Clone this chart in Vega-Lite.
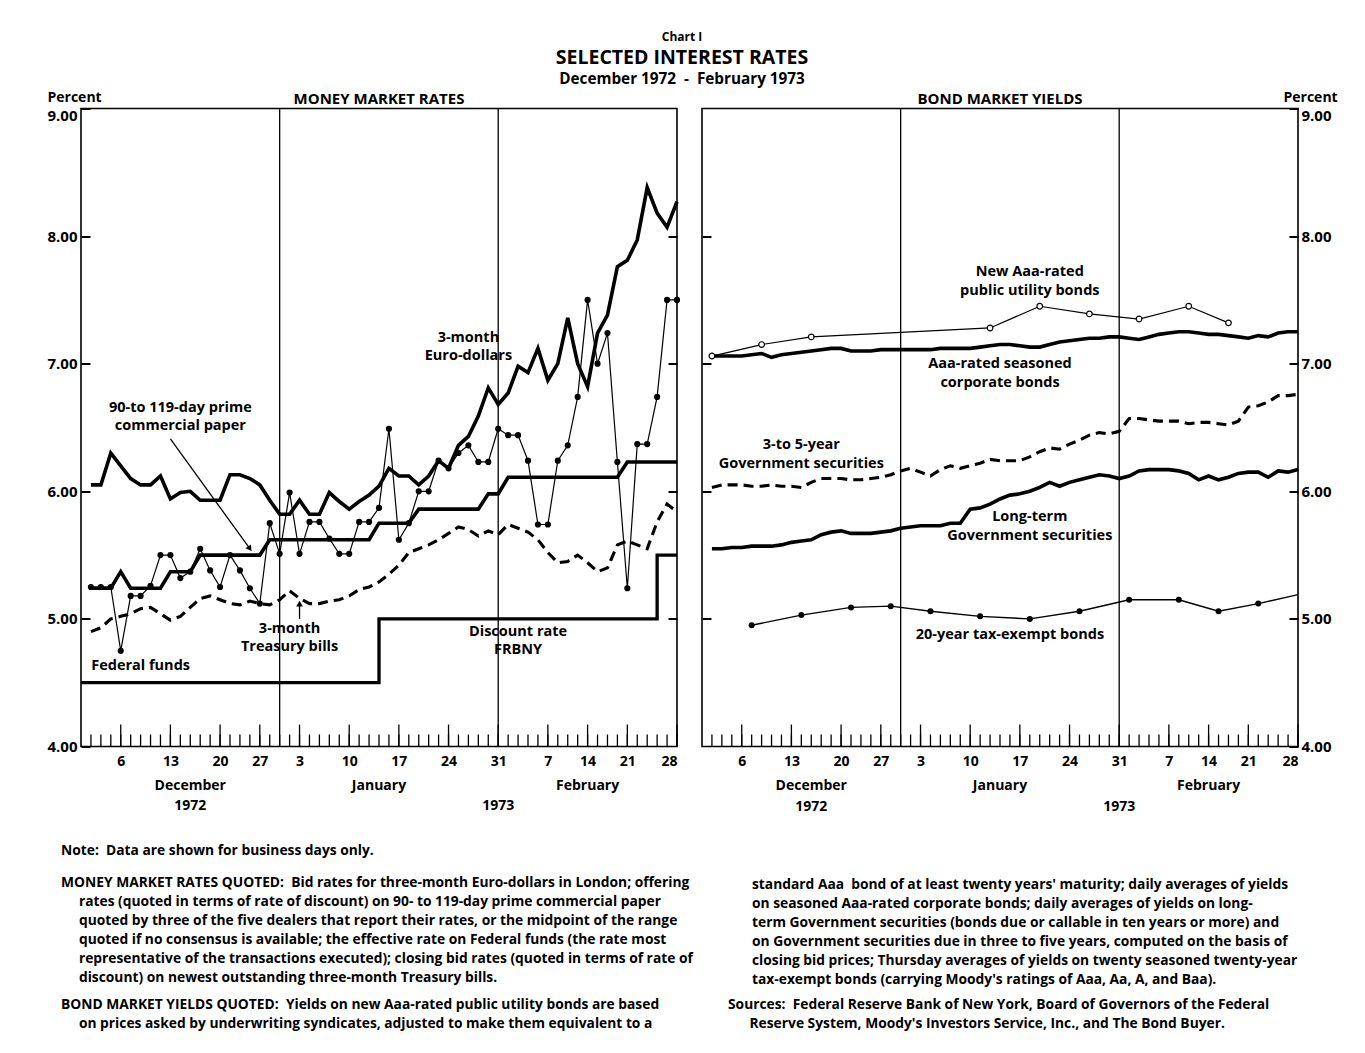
{
  "$schema": "https://vega.github.io/schema/vega-lite/v6.json",
  "background": "white",
  "padding": {"left": 46, "top": 26, "right": 5, "bottom": 5},
  "config": {
    "view": {"stroke": null},
    "font": "Open Sans",
    "text": {"font": "Open Sans", "fontWeight": "bold", "color": "black"},
    "line": {"color": "black"},
    "rule": {"color": "black"},
    "point": {"color": "black"},
    "axis": {"labelColor": "black", "titleColor": "black", "tickColor": "black", "domainColor": "black", "grid": false},
    "title": {"color": "black", "subtitleColor": "black"}
  },
  "datasets": {
    "header": [
      {"line": 1, "text": "Chart I"},
      {"line": 2, "text": "SELECTED INTEREST RATES"},
      {"line": 3, "text": "December 1972\u00a0 -\u00a0 February 1973"}
    ],
    "money": [
      {"date":"1972-12-01","series":"euro","rate":6.05},{"date":"1972-12-04","series":"euro","rate":6.05},{"date":"1972-12-05","series":"euro","rate":6.30},{"date":"1972-12-06","series":"euro","rate":6.20},{"date":"1972-12-07","series":"euro","rate":6.10},{"date":"1972-12-08","series":"euro","rate":6.05},{"date":"1972-12-11","series":"euro","rate":6.05},{"date":"1972-12-12","series":"euro","rate":6.12},{"date":"1972-12-13","series":"euro","rate":5.94},{"date":"1972-12-14","series":"euro","rate":5.99},{"date":"1972-12-15","series":"euro","rate":6.00},{"date":"1972-12-18","series":"euro","rate":5.93},{"date":"1972-12-19","series":"euro","rate":5.93},{"date":"1972-12-20","series":"euro","rate":5.93},{"date":"1972-12-21","series":"euro","rate":6.13},{"date":"1972-12-22","series":"euro","rate":6.13},{"date":"1972-12-26","series":"euro","rate":6.10},{"date":"1972-12-27","series":"euro","rate":6.05},{"date":"1972-12-28","series":"euro","rate":5.93},{"date":"1972-12-29","series":"euro","rate":5.82},
      {"date":"1973-01-02","series":"euro","rate":5.82},{"date":"1973-01-03","series":"euro","rate":5.93},{"date":"1973-01-04","series":"euro","rate":5.82},{"date":"1973-01-05","series":"euro","rate":5.82},{"date":"1973-01-08","series":"euro","rate":5.99},{"date":"1973-01-09","series":"euro","rate":5.92},{"date":"1973-01-10","series":"euro","rate":5.86},{"date":"1973-01-11","series":"euro","rate":5.92},{"date":"1973-01-12","series":"euro","rate":5.97},{"date":"1973-01-15","series":"euro","rate":6.04},{"date":"1973-01-16","series":"euro","rate":6.18},{"date":"1973-01-17","series":"euro","rate":6.12},{"date":"1973-01-18","series":"euro","rate":6.12},{"date":"1973-01-19","series":"euro","rate":6.05},{"date":"1973-01-22","series":"euro","rate":6.12},{"date":"1973-01-23","series":"euro","rate":6.24},{"date":"1973-01-24","series":"euro","rate":6.18},{"date":"1973-01-25","series":"euro","rate":6.36},{"date":"1973-01-26","series":"euro","rate":6.43},{"date":"1973-01-29","series":"euro","rate":6.59},{"date":"1973-01-30","series":"euro","rate":6.81},{"date":"1973-01-31","series":"euro","rate":6.68},
      {"date":"1973-02-01","series":"euro","rate":6.77},{"date":"1973-02-02","series":"euro","rate":6.98},{"date":"1973-02-05","series":"euro","rate":6.93},{"date":"1973-02-06","series":"euro","rate":7.12},{"date":"1973-02-07","series":"euro","rate":6.87},{"date":"1973-02-08","series":"euro","rate":7.00},{"date":"1973-02-09","series":"euro","rate":7.36},{"date":"1973-02-13","series":"euro","rate":7.00},{"date":"1973-02-14","series":"euro","rate":6.82},{"date":"1973-02-15","series":"euro","rate":7.24},{"date":"1973-02-16","series":"euro","rate":7.38},{"date":"1973-02-20","series":"euro","rate":7.76},{"date":"1973-02-21","series":"euro","rate":7.81},{"date":"1973-02-22","series":"euro","rate":7.97},{"date":"1973-02-23","series":"euro","rate":8.38},{"date":"1973-02-26","series":"euro","rate":8.18},{"date":"1973-02-27","series":"euro","rate":8.07},{"date":"1973-02-28","series":"euro","rate":8.27},

      {"date":"1972-12-01","series":"paper","rate":5.24},{"date":"1972-12-04","series":"paper","rate":5.24},{"date":"1972-12-05","series":"paper","rate":5.24},{"date":"1972-12-06","series":"paper","rate":5.37},{"date":"1972-12-07","series":"paper","rate":5.24},{"date":"1972-12-08","series":"paper","rate":5.24},{"date":"1972-12-11","series":"paper","rate":5.24},{"date":"1972-12-12","series":"paper","rate":5.24},{"date":"1972-12-13","series":"paper","rate":5.37},{"date":"1972-12-14","series":"paper","rate":5.37},{"date":"1972-12-15","series":"paper","rate":5.37},{"date":"1972-12-18","series":"paper","rate":5.50},{"date":"1972-12-19","series":"paper","rate":5.50},{"date":"1972-12-20","series":"paper","rate":5.50},{"date":"1972-12-21","series":"paper","rate":5.50},{"date":"1972-12-22","series":"paper","rate":5.50},{"date":"1972-12-26","series":"paper","rate":5.50},{"date":"1972-12-27","series":"paper","rate":5.50},{"date":"1972-12-28","series":"paper","rate":5.62},{"date":"1972-12-29","series":"paper","rate":5.62},
      {"date":"1973-01-02","series":"paper","rate":5.62},{"date":"1973-01-03","series":"paper","rate":5.62},{"date":"1973-01-04","series":"paper","rate":5.62},{"date":"1973-01-05","series":"paper","rate":5.62},{"date":"1973-01-08","series":"paper","rate":5.62},{"date":"1973-01-09","series":"paper","rate":5.62},{"date":"1973-01-10","series":"paper","rate":5.62},{"date":"1973-01-11","series":"paper","rate":5.62},{"date":"1973-01-12","series":"paper","rate":5.62},{"date":"1973-01-15","series":"paper","rate":5.75},{"date":"1973-01-16","series":"paper","rate":5.75},{"date":"1973-01-17","series":"paper","rate":5.75},{"date":"1973-01-18","series":"paper","rate":5.75},{"date":"1973-01-19","series":"paper","rate":5.86},{"date":"1973-01-22","series":"paper","rate":5.86},{"date":"1973-01-23","series":"paper","rate":5.86},{"date":"1973-01-24","series":"paper","rate":5.86},{"date":"1973-01-25","series":"paper","rate":5.86},{"date":"1973-01-26","series":"paper","rate":5.86},{"date":"1973-01-29","series":"paper","rate":5.86},{"date":"1973-01-30","series":"paper","rate":5.98},{"date":"1973-01-31","series":"paper","rate":5.98},
      {"date":"1973-02-01","series":"paper","rate":6.11},{"date":"1973-02-02","series":"paper","rate":6.11},{"date":"1973-02-05","series":"paper","rate":6.11},{"date":"1973-02-06","series":"paper","rate":6.11},{"date":"1973-02-07","series":"paper","rate":6.11},{"date":"1973-02-08","series":"paper","rate":6.11},{"date":"1973-02-09","series":"paper","rate":6.11},{"date":"1973-02-13","series":"paper","rate":6.11},{"date":"1973-02-14","series":"paper","rate":6.11},{"date":"1973-02-15","series":"paper","rate":6.11},{"date":"1973-02-16","series":"paper","rate":6.11},{"date":"1973-02-20","series":"paper","rate":6.11},{"date":"1973-02-21","series":"paper","rate":6.23},{"date":"1973-02-22","series":"paper","rate":6.23},{"date":"1973-02-23","series":"paper","rate":6.23},{"date":"1973-02-26","series":"paper","rate":6.23},{"date":"1973-02-27","series":"paper","rate":6.23},{"date":"1973-02-28","series":"paper","rate":6.23},

      {"date":"1972-12-01","series":"fedfunds","rate":5.25},{"date":"1972-12-04","series":"fedfunds","rate":5.25},{"date":"1972-12-05","series":"fedfunds","rate":5.25},{"date":"1972-12-06","series":"fedfunds","rate":4.75},{"date":"1972-12-07","series":"fedfunds","rate":5.18},{"date":"1972-12-08","series":"fedfunds","rate":5.18},{"date":"1972-12-11","series":"fedfunds","rate":5.26},{"date":"1972-12-12","series":"fedfunds","rate":5.50},{"date":"1972-12-13","series":"fedfunds","rate":5.50},{"date":"1972-12-14","series":"fedfunds","rate":5.32},{"date":"1972-12-15","series":"fedfunds","rate":5.37},{"date":"1972-12-18","series":"fedfunds","rate":5.55},{"date":"1972-12-19","series":"fedfunds","rate":5.38},{"date":"1972-12-20","series":"fedfunds","rate":5.25},{"date":"1972-12-21","series":"fedfunds","rate":5.50},{"date":"1972-12-22","series":"fedfunds","rate":5.38},{"date":"1972-12-26","series":"fedfunds","rate":5.24},{"date":"1972-12-27","series":"fedfunds","rate":5.12},{"date":"1972-12-28","series":"fedfunds","rate":5.75},{"date":"1972-12-29","series":"fedfunds","rate":5.51},
      {"date":"1973-01-02","series":"fedfunds","rate":5.99},{"date":"1973-01-03","series":"fedfunds","rate":5.51},{"date":"1973-01-04","series":"fedfunds","rate":5.76},{"date":"1973-01-05","series":"fedfunds","rate":5.76},{"date":"1973-01-08","series":"fedfunds","rate":5.63},{"date":"1973-01-09","series":"fedfunds","rate":5.51},{"date":"1973-01-10","series":"fedfunds","rate":5.51},{"date":"1973-01-11","series":"fedfunds","rate":5.76},{"date":"1973-01-12","series":"fedfunds","rate":5.76},{"date":"1973-01-15","series":"fedfunds","rate":5.87},{"date":"1973-01-16","series":"fedfunds","rate":6.49},{"date":"1973-01-17","series":"fedfunds","rate":5.62},{"date":"1973-01-18","series":"fedfunds","rate":5.75},{"date":"1973-01-19","series":"fedfunds","rate":6.00},{"date":"1973-01-22","series":"fedfunds","rate":6.00},{"date":"1973-01-23","series":"fedfunds","rate":6.24},{"date":"1973-01-24","series":"fedfunds","rate":6.18},{"date":"1973-01-25","series":"fedfunds","rate":6.30},{"date":"1973-01-26","series":"fedfunds","rate":6.36},{"date":"1973-01-29","series":"fedfunds","rate":6.23},{"date":"1973-01-30","series":"fedfunds","rate":6.23},{"date":"1973-01-31","series":"fedfunds","rate":6.49},
      {"date":"1973-02-01","series":"fedfunds","rate":6.44},{"date":"1973-02-02","series":"fedfunds","rate":6.44},{"date":"1973-02-05","series":"fedfunds","rate":6.24},{"date":"1973-02-06","series":"fedfunds","rate":5.74},{"date":"1973-02-07","series":"fedfunds","rate":5.74},{"date":"1973-02-08","series":"fedfunds","rate":6.24},{"date":"1973-02-09","series":"fedfunds","rate":6.36},{"date":"1973-02-13","series":"fedfunds","rate":6.74},{"date":"1973-02-14","series":"fedfunds","rate":7.50},{"date":"1973-02-15","series":"fedfunds","rate":7.00},{"date":"1973-02-16","series":"fedfunds","rate":7.24},{"date":"1973-02-20","series":"fedfunds","rate":6.23},{"date":"1973-02-21","series":"fedfunds","rate":5.24},{"date":"1973-02-22","series":"fedfunds","rate":6.37},{"date":"1973-02-23","series":"fedfunds","rate":6.37},{"date":"1973-02-26","series":"fedfunds","rate":6.74},{"date":"1973-02-27","series":"fedfunds","rate":7.50},{"date":"1973-02-28","series":"fedfunds","rate":7.50},

      {"date":"1972-12-01","series":"bills","rate":4.90},{"date":"1972-12-04","series":"bills","rate":4.93},{"date":"1972-12-05","series":"bills","rate":5.00},{"date":"1972-12-06","series":"bills","rate":5.02},{"date":"1972-12-07","series":"bills","rate":5.04},{"date":"1972-12-08","series":"bills","rate":5.08},{"date":"1972-12-11","series":"bills","rate":5.09},{"date":"1972-12-12","series":"bills","rate":5.04},{"date":"1972-12-13","series":"bills","rate":4.99},{"date":"1972-12-14","series":"bills","rate":5.02},{"date":"1972-12-15","series":"bills","rate":5.09},{"date":"1972-12-18","series":"bills","rate":5.16},{"date":"1972-12-19","series":"bills","rate":5.18},{"date":"1972-12-20","series":"bills","rate":5.15},{"date":"1972-12-21","series":"bills","rate":5.12},{"date":"1972-12-22","series":"bills","rate":5.11},{"date":"1972-12-26","series":"bills","rate":5.14},{"date":"1972-12-27","series":"bills","rate":5.12},{"date":"1972-12-28","series":"bills","rate":5.11},{"date":"1972-12-29","series":"bills","rate":5.15},
      {"date":"1973-01-02","series":"bills","rate":5.22},{"date":"1973-01-03","series":"bills","rate":5.16},{"date":"1973-01-04","series":"bills","rate":5.12},{"date":"1973-01-05","series":"bills","rate":5.12},{"date":"1973-01-08","series":"bills","rate":5.14},{"date":"1973-01-09","series":"bills","rate":5.15},{"date":"1973-01-10","series":"bills","rate":5.18},{"date":"1973-01-11","series":"bills","rate":5.23},{"date":"1973-01-12","series":"bills","rate":5.25},{"date":"1973-01-15","series":"bills","rate":5.29},{"date":"1973-01-16","series":"bills","rate":5.35},{"date":"1973-01-17","series":"bills","rate":5.42},{"date":"1973-01-18","series":"bills","rate":5.52},{"date":"1973-01-19","series":"bills","rate":5.55},{"date":"1973-01-22","series":"bills","rate":5.58},{"date":"1973-01-23","series":"bills","rate":5.62},{"date":"1973-01-24","series":"bills","rate":5.67},{"date":"1973-01-25","series":"bills","rate":5.72},{"date":"1973-01-26","series":"bills","rate":5.70},{"date":"1973-01-29","series":"bills","rate":5.65},{"date":"1973-01-30","series":"bills","rate":5.69},{"date":"1973-01-31","series":"bills","rate":5.66},
      {"date":"1973-02-01","series":"bills","rate":5.74},{"date":"1973-02-02","series":"bills","rate":5.71},{"date":"1973-02-05","series":"bills","rate":5.68},{"date":"1973-02-06","series":"bills","rate":5.62},{"date":"1973-02-07","series":"bills","rate":5.52},{"date":"1973-02-08","series":"bills","rate":5.44},{"date":"1973-02-09","series":"bills","rate":5.45},{"date":"1973-02-13","series":"bills","rate":5.50},{"date":"1973-02-14","series":"bills","rate":5.44},{"date":"1973-02-15","series":"bills","rate":5.37},{"date":"1973-02-16","series":"bills","rate":5.40},{"date":"1973-02-20","series":"bills","rate":5.58},{"date":"1973-02-21","series":"bills","rate":5.61},{"date":"1973-02-22","series":"bills","rate":5.58},{"date":"1973-02-23","series":"bills","rate":5.55},{"date":"1973-02-26","series":"bills","rate":5.76},{"date":"1973-02-27","series":"bills","rate":5.90},{"date":"1973-02-28","series":"bills","rate":5.84},

      {"date":"1972-11-30","series":"discount","rate":4.50},{"date":"1973-01-15","series":"discount","rate":5.00},{"date":"1973-02-26","series":"discount","rate":5.50},{"date":"1973-02-28","series":"discount","rate":5.50}
    ],
    "bond": [
      {"date":"1972-12-01","series":"aaa","rate":7.06},{"date":"1972-12-04","series":"aaa","rate":7.06},{"date":"1972-12-05","series":"aaa","rate":7.06},{"date":"1972-12-06","series":"aaa","rate":7.06},{"date":"1972-12-07","series":"aaa","rate":7.07},{"date":"1972-12-08","series":"aaa","rate":7.08},{"date":"1972-12-11","series":"aaa","rate":7.05},{"date":"1972-12-12","series":"aaa","rate":7.07},{"date":"1972-12-13","series":"aaa","rate":7.08},{"date":"1972-12-14","series":"aaa","rate":7.09},{"date":"1972-12-15","series":"aaa","rate":7.10},{"date":"1972-12-18","series":"aaa","rate":7.11},{"date":"1972-12-19","series":"aaa","rate":7.12},{"date":"1972-12-20","series":"aaa","rate":7.12},{"date":"1972-12-21","series":"aaa","rate":7.10},{"date":"1972-12-22","series":"aaa","rate":7.10},{"date":"1972-12-26","series":"aaa","rate":7.10},{"date":"1972-12-27","series":"aaa","rate":7.11},{"date":"1972-12-28","series":"aaa","rate":7.11},{"date":"1972-12-29","series":"aaa","rate":7.11},
      {"date":"1973-01-02","series":"aaa","rate":7.11},{"date":"1973-01-03","series":"aaa","rate":7.11},{"date":"1973-01-04","series":"aaa","rate":7.11},{"date":"1973-01-05","series":"aaa","rate":7.12},{"date":"1973-01-08","series":"aaa","rate":7.12},{"date":"1973-01-09","series":"aaa","rate":7.12},{"date":"1973-01-10","series":"aaa","rate":7.12},{"date":"1973-01-11","series":"aaa","rate":7.13},{"date":"1973-01-12","series":"aaa","rate":7.14},{"date":"1973-01-15","series":"aaa","rate":7.15},{"date":"1973-01-16","series":"aaa","rate":7.15},{"date":"1973-01-17","series":"aaa","rate":7.14},{"date":"1973-01-18","series":"aaa","rate":7.13},{"date":"1973-01-19","series":"aaa","rate":7.13},{"date":"1973-01-22","series":"aaa","rate":7.15},{"date":"1973-01-23","series":"aaa","rate":7.17},{"date":"1973-01-24","series":"aaa","rate":7.18},{"date":"1973-01-25","series":"aaa","rate":7.19},{"date":"1973-01-26","series":"aaa","rate":7.20},{"date":"1973-01-29","series":"aaa","rate":7.20},{"date":"1973-01-30","series":"aaa","rate":7.21},{"date":"1973-01-31","series":"aaa","rate":7.21},
      {"date":"1973-02-01","series":"aaa","rate":7.20},{"date":"1973-02-02","series":"aaa","rate":7.19},{"date":"1973-02-05","series":"aaa","rate":7.21},{"date":"1973-02-06","series":"aaa","rate":7.23},{"date":"1973-02-07","series":"aaa","rate":7.24},{"date":"1973-02-08","series":"aaa","rate":7.25},{"date":"1973-02-09","series":"aaa","rate":7.25},{"date":"1973-02-13","series":"aaa","rate":7.24},{"date":"1973-02-14","series":"aaa","rate":7.23},{"date":"1973-02-15","series":"aaa","rate":7.23},{"date":"1973-02-16","series":"aaa","rate":7.22},{"date":"1973-02-20","series":"aaa","rate":7.21},{"date":"1973-02-21","series":"aaa","rate":7.20},{"date":"1973-02-22","series":"aaa","rate":7.22},{"date":"1973-02-23","series":"aaa","rate":7.21},{"date":"1973-02-26","series":"aaa","rate":7.24},{"date":"1973-02-27","series":"aaa","rate":7.25},{"date":"1973-02-28","series":"aaa","rate":7.25},

      {"date":"1972-12-01","series":"gov35","rate":6.03},{"date":"1972-12-04","series":"gov35","rate":6.05},{"date":"1972-12-05","series":"gov35","rate":6.05},{"date":"1972-12-06","series":"gov35","rate":6.05},{"date":"1972-12-07","series":"gov35","rate":6.04},{"date":"1972-12-08","series":"gov35","rate":6.04},{"date":"1972-12-11","series":"gov35","rate":6.05},{"date":"1972-12-12","series":"gov35","rate":6.04},{"date":"1972-12-13","series":"gov35","rate":6.04},{"date":"1972-12-14","series":"gov35","rate":6.03},{"date":"1972-12-15","series":"gov35","rate":6.07},{"date":"1972-12-18","series":"gov35","rate":6.10},{"date":"1972-12-19","series":"gov35","rate":6.10},{"date":"1972-12-20","series":"gov35","rate":6.10},{"date":"1972-12-21","series":"gov35","rate":6.09},{"date":"1972-12-22","series":"gov35","rate":6.09},{"date":"1972-12-26","series":"gov35","rate":6.10},{"date":"1972-12-27","series":"gov35","rate":6.11},{"date":"1972-12-28","series":"gov35","rate":6.13},{"date":"1972-12-29","series":"gov35","rate":6.16},
      {"date":"1973-01-02","series":"gov35","rate":6.18},{"date":"1973-01-03","series":"gov35","rate":6.15},{"date":"1973-01-04","series":"gov35","rate":6.12},{"date":"1973-01-05","series":"gov35","rate":6.17},{"date":"1973-01-08","series":"gov35","rate":6.20},{"date":"1973-01-09","series":"gov35","rate":6.18},{"date":"1973-01-10","series":"gov35","rate":6.20},{"date":"1973-01-11","series":"gov35","rate":6.22},{"date":"1973-01-12","series":"gov35","rate":6.25},{"date":"1973-01-15","series":"gov35","rate":6.24},{"date":"1973-01-16","series":"gov35","rate":6.24},{"date":"1973-01-17","series":"gov35","rate":6.24},{"date":"1973-01-18","series":"gov35","rate":6.27},{"date":"1973-01-19","series":"gov35","rate":6.31},{"date":"1973-01-22","series":"gov35","rate":6.34},{"date":"1973-01-23","series":"gov35","rate":6.33},{"date":"1973-01-24","series":"gov35","rate":6.37},{"date":"1973-01-25","series":"gov35","rate":6.40},{"date":"1973-01-26","series":"gov35","rate":6.44},{"date":"1973-01-29","series":"gov35","rate":6.46},{"date":"1973-01-30","series":"gov35","rate":6.45},{"date":"1973-01-31","series":"gov35","rate":6.47},
      {"date":"1973-02-01","series":"gov35","rate":6.57},{"date":"1973-02-02","series":"gov35","rate":6.57},{"date":"1973-02-05","series":"gov35","rate":6.56},{"date":"1973-02-06","series":"gov35","rate":6.55},{"date":"1973-02-07","series":"gov35","rate":6.55},{"date":"1973-02-08","series":"gov35","rate":6.55},{"date":"1973-02-09","series":"gov35","rate":6.53},{"date":"1973-02-13","series":"gov35","rate":6.54},{"date":"1973-02-14","series":"gov35","rate":6.54},{"date":"1973-02-15","series":"gov35","rate":6.53},{"date":"1973-02-16","series":"gov35","rate":6.52},{"date":"1973-02-20","series":"gov35","rate":6.55},{"date":"1973-02-21","series":"gov35","rate":6.66},{"date":"1973-02-22","series":"gov35","rate":6.67},{"date":"1973-02-23","series":"gov35","rate":6.70},{"date":"1973-02-26","series":"gov35","rate":6.75},{"date":"1973-02-27","series":"gov35","rate":6.75},{"date":"1973-02-28","series":"gov35","rate":6.76},

      {"date":"1972-12-01","series":"govlong","rate":5.55},{"date":"1972-12-04","series":"govlong","rate":5.55},{"date":"1972-12-05","series":"govlong","rate":5.56},{"date":"1972-12-06","series":"govlong","rate":5.56},{"date":"1972-12-07","series":"govlong","rate":5.57},{"date":"1972-12-08","series":"govlong","rate":5.57},{"date":"1972-12-11","series":"govlong","rate":5.57},{"date":"1972-12-12","series":"govlong","rate":5.58},{"date":"1972-12-13","series":"govlong","rate":5.60},{"date":"1972-12-14","series":"govlong","rate":5.61},{"date":"1972-12-15","series":"govlong","rate":5.62},{"date":"1972-12-18","series":"govlong","rate":5.66},{"date":"1972-12-19","series":"govlong","rate":5.68},{"date":"1972-12-20","series":"govlong","rate":5.69},{"date":"1972-12-21","series":"govlong","rate":5.67},{"date":"1972-12-22","series":"govlong","rate":5.67},{"date":"1972-12-26","series":"govlong","rate":5.67},{"date":"1972-12-27","series":"govlong","rate":5.68},{"date":"1972-12-28","series":"govlong","rate":5.69},{"date":"1972-12-29","series":"govlong","rate":5.71},
      {"date":"1973-01-02","series":"govlong","rate":5.72},{"date":"1973-01-03","series":"govlong","rate":5.73},{"date":"1973-01-04","series":"govlong","rate":5.73},{"date":"1973-01-05","series":"govlong","rate":5.73},{"date":"1973-01-08","series":"govlong","rate":5.75},{"date":"1973-01-09","series":"govlong","rate":5.75},{"date":"1973-01-10","series":"govlong","rate":5.86},{"date":"1973-01-11","series":"govlong","rate":5.87},{"date":"1973-01-12","series":"govlong","rate":5.90},{"date":"1973-01-15","series":"govlong","rate":5.94},{"date":"1973-01-16","series":"govlong","rate":5.97},{"date":"1973-01-17","series":"govlong","rate":5.98},{"date":"1973-01-18","series":"govlong","rate":6.00},{"date":"1973-01-19","series":"govlong","rate":6.03},{"date":"1973-01-22","series":"govlong","rate":6.07},{"date":"1973-01-23","series":"govlong","rate":6.04},{"date":"1973-01-24","series":"govlong","rate":6.07},{"date":"1973-01-25","series":"govlong","rate":6.09},{"date":"1973-01-26","series":"govlong","rate":6.11},{"date":"1973-01-29","series":"govlong","rate":6.13},{"date":"1973-01-30","series":"govlong","rate":6.12},{"date":"1973-01-31","series":"govlong","rate":6.10},
      {"date":"1973-02-01","series":"govlong","rate":6.12},{"date":"1973-02-02","series":"govlong","rate":6.16},{"date":"1973-02-05","series":"govlong","rate":6.17},{"date":"1973-02-06","series":"govlong","rate":6.17},{"date":"1973-02-07","series":"govlong","rate":6.17},{"date":"1973-02-08","series":"govlong","rate":6.16},{"date":"1973-02-09","series":"govlong","rate":6.14},{"date":"1973-02-13","series":"govlong","rate":6.09},{"date":"1973-02-14","series":"govlong","rate":6.12},{"date":"1973-02-15","series":"govlong","rate":6.09},{"date":"1973-02-16","series":"govlong","rate":6.11},{"date":"1973-02-20","series":"govlong","rate":6.14},{"date":"1973-02-21","series":"govlong","rate":6.15},{"date":"1973-02-22","series":"govlong","rate":6.15},{"date":"1973-02-23","series":"govlong","rate":6.11},{"date":"1973-02-26","series":"govlong","rate":6.16},{"date":"1973-02-27","series":"govlong","rate":6.15},{"date":"1973-02-28","series":"govlong","rate":6.17},

      {"date":"1972-12-01","series":"newaaa","rate":7.06},{"date":"1972-12-08","series":"newaaa","rate":7.15},{"date":"1972-12-15","series":"newaaa","rate":7.21},{"date":"1973-01-12","series":"newaaa","rate":7.28},{"date":"1973-01-19","series":"newaaa","rate":7.45},{"date":"1973-01-26","series":"newaaa","rate":7.39},{"date":"1973-02-02","series":"newaaa","rate":7.35},{"date":"1973-02-09","series":"newaaa","rate":7.45},{"date":"1973-02-16","series":"newaaa","rate":7.32},

      {"date":"1972-12-07","series":"taxexempt","rate":4.95},{"date":"1972-12-14","series":"taxexempt","rate":5.03},{"date":"1972-12-21","series":"taxexempt","rate":5.09},{"date":"1972-12-28","series":"taxexempt","rate":5.10},{"date":"1973-01-04","series":"taxexempt","rate":5.06},{"date":"1973-01-11","series":"taxexempt","rate":5.02},{"date":"1973-01-18","series":"taxexempt","rate":5.00},{"date":"1973-01-25","series":"taxexempt","rate":5.06},{"date":"1973-02-01","series":"taxexempt","rate":5.15},{"date":"1973-02-08","series":"taxexempt","rate":5.15},{"date":"1973-02-15","series":"taxexempt","rate":5.06},{"date":"1973-02-22","series":"taxexempt","rate":5.12},{"date":"1973-02-28","series":"taxexempt","rate":5.19}
    ],
    "annotations": [
      {"panel":"money","date":"1973-01-26","rate":7.20,"text":"3-month\nEuro-dollars"},
      {"panel":"money","date":"1972-12-14","rate":6.65,"text":"90-to 119-day prime\ncommercial paper"},
      {"panel":"money","date":"1972-12-08","rate":4.63,"text":"Federal funds"},
      {"panel":"money","date":"1973-01-02","rate":4.92,"text":"3-month\nTreasury bills"},
      {"panel":"money","date":"1973-02-02","rate":4.90,"text":"Discount rate\nFRBNY"},
      {"panel":"bond","date":"1973-01-18","rate":7.72,"text":"New Aaa-rated\npublic utility bonds"},
      {"panel":"bond","date":"1973-01-15","rate":7.00,"text":"Aaa-rated seasoned\ncorporate bonds"},
      {"panel":"bond","date":"1972-12-14","rate":6.36,"text":"3-to 5-year\nGovernment securities"},
      {"panel":"bond","date":"1973-01-18","rate":5.80,"text":"Long-term\nGovernment securities"},
      {"panel":"bond","date":"1973-01-16","rate":4.87,"text":"20-year tax-exempt bonds"}
    ],
    "arrows": [
      {"arrow":"paper","date":"1972-12-13","rate":6.41,"date2":"1972-12-26","rate2":5.55},
      {"arrow":"bills","date":"1973-01-03","rate":5.0,"date2":"1973-01-03","rate2":5.12}
    ],
    "calendar": [
      {"panel":"money","kind":"title","date":"1973-01-15","text":"MONEY MARKET RATES"},
      {"panel":"money","kind":"month","date":"1972-12-15","text":"December"},
      {"panel":"money","kind":"month","date":"1973-01-15","text":"January"},
      {"panel":"money","kind":"month","date":"1973-02-14","text":"February"},
      {"panel":"money","kind":"year","date":"1972-12-15","text":"1972"},
      {"panel":"money","kind":"year","date":"1973-01-31","text":"1973"},
      {"panel":"bond","kind":"title","date":"1973-01-15","text":"BOND MARKET YIELDS"},
      {"panel":"bond","kind":"month","date":"1972-12-15","text":"December"},
      {"panel":"bond","kind":"month","date":"1973-01-15","text":"January"},
      {"panel":"bond","kind":"month","date":"1973-02-14","text":"February"},
      {"panel":"bond","kind":"year","date":"1972-12-15","text":"1972"},
      {"panel":"bond","kind":"year","date":"1973-01-31","text":"1973"}
    ],
    "monthEnds": [{"date":"1972-12-29"},{"date":"1973-01-31"}]
  },
  "spacing": 0.5,
  "vconcat": [
    {
      "width": 1202,
      "height": 63,
      "data": {"name": "header"},
      "encoding": {
        "x": {"datum": 0.5, "type": "quantitative", "scale": {"domain": [0, 1]}, "axis": null},
        "y": {"field": "line", "type": "ordinal", "scale": {"type": "point", "padding": 0.5, "domain": [1, 2, 3]}, "axis": null},
        "text": {"field": "text"}
      },
      "layer": [
        {"transform": [{"filter": "datum.line == 1"}], "mark": {"type": "text", "fontSize": 12, "fontWeight": "bold", "baseline": "middle"}},
        {"transform": [{"filter": "datum.line == 2"}], "mark": {"type": "text", "fontSize": 19.5, "fontWeight": "bold", "baseline": "middle"}},
        {"transform": [{"filter": "datum.line == 3"}], "mark": {"type": "text", "fontSize": 15.3, "fontWeight": "bold", "baseline": "middle"}}
      ]
    },
    {
      "spacing": 15,
      "hconcat": [
        {
          "width": 596,
          "height": 638,
          "view": {"stroke": "black", "strokeWidth": 1.6},
          "data": {"name": "money"},
          "encoding": {
            "x": {
              "field": "date", "type": "ordinal",
              "scale": {"type": "point", "padding": 0, "domain": ["1972-11-30","1972-12-01","1972-12-04","1972-12-05","1972-12-06","1972-12-07","1972-12-08","1972-12-11","1972-12-12","1972-12-13","1972-12-14","1972-12-15","1972-12-18","1972-12-19","1972-12-20","1972-12-21","1972-12-22","1972-12-26","1972-12-27","1972-12-28","1972-12-29","1973-01-02","1973-01-03","1973-01-04","1973-01-05","1973-01-08","1973-01-09","1973-01-10","1973-01-11","1973-01-12","1973-01-15","1973-01-16","1973-01-17","1973-01-18","1973-01-19","1973-01-22","1973-01-23","1973-01-24","1973-01-25","1973-01-26","1973-01-29","1973-01-30","1973-01-31","1973-02-01","1973-02-02","1973-02-05","1973-02-06","1973-02-07","1973-02-08","1973-02-09","1973-02-13","1973-02-14","1973-02-15","1973-02-16","1973-02-20","1973-02-21","1973-02-22","1973-02-23","1973-02-26","1973-02-27","1973-02-28"]},
              "axis": {"orient": "bottom", "title": null, "domain": false, "ticks": false, "grid": false, "labelAngle": 0, "labelPadding": 8, "labelFont": "Open Sans", "labelFontSize": 14, "labelFontWeight": "bold", "labelColor": "black", "labelFlush": true, "labelOverlap": false, "labelBaseline": "top", "labelExpr": "utcday(toDate(datum.value)) == 3 ? '' + toNumber(substring(datum.value, 8, 10)) : ''"}
            }
          },
          "layer": [
            {"data": {"name": "monthEnds"}, "mark": {"type": "rule", "strokeWidth": 1.3, "color": "black"}, "encoding": {}},
            {"transform": [{"filter": "datum.series == 'euro'"}], "mark": {"type": "rule", "strokeWidth": 1.3, "color": "black"}, "encoding": {"y": {"datum": 4, "axis": null}, "y2": {"datum": 4.094}}},
            {"transform": [{"filter": "datum.series == 'euro' && utcday(toDate(datum.date)) == 3"}], "mark": {"type": "rule", "strokeWidth": 1.3, "color": "black"}, "encoding": {"y": {"datum": 4, "axis": null}, "y2": {"datum": 4.172}}},
            {"transform": [{"filter": "datum.series == 'euro'"}], "mark": {"type": "line", "strokeWidth": 3.6, "color": "black"},
             "encoding": {"y": {"field": "rate", "type": "quantitative", "scale": {"domain": [4, 9], "nice": false, "zero": false},
               "axis": {"orient": "left", "values": [4, 5, 6, 7, 8, 9], "format": ".2f", "domain": false, "grid": false, "tickSize": -9, "tickWidth": 2, "tickColor": "black", "labelPadding": 13, "labelFont": "Open Sans", "labelFontSize": 15, "labelFontWeight": "bold", "labelColor": "black", "labelFlush": false, "labelOverlap": false, "labelBaseline": {"condition": {"test": "datum.value == 9", "value": "top"}, "value": "middle"}, "title": "Percent", "titleAngle": 0, "titleAlign": "left", "titleBaseline": "alphabetic", "titleX": -34, "titleY": -7, "titleFont": "Open Sans", "titleFontSize": 14, "titleFontWeight": "bold", "titleColor": "black"}}}},
            {"transform": [{"filter": "datum.series == 'paper'"}], "mark": {"type": "line", "strokeWidth": 3.6, "color": "black"}, "encoding": {"y": {"field": "rate", "type": "quantitative", "axis": null}}},
            {"transform": [{"filter": "datum.series == 'bills'"}], "mark": {"type": "line", "strokeWidth": 3.1, "strokeDash": [10, 6], "color": "black"},
             "encoding": {"y": {"field": "rate", "type": "quantitative",
               "axis": {"orient": "right", "values": [5, 6, 7, 8], "labels": false, "domain": false, "grid": false, "tickSize": -9, "tickWidth": 2, "tickColor": "black", "title": null}}}},
            {"transform": [{"filter": "datum.series == 'discount'"}], "mark": {"type": "line", "strokeWidth": 3.3, "interpolate": "step-after", "color": "black"}, "encoding": {"y": {"field": "rate", "type": "quantitative", "axis": null}}},
            {"transform": [{"filter": "datum.series == 'fedfunds'"}], "mark": {"type": "line", "strokeWidth": 1.2, "color": "black", "point": {"filled": true, "size": 38, "color": "black"}}, "encoding": {"y": {"field": "rate", "type": "quantitative", "axis": null}}},
            {"data": {"name": "arrows"}, "mark": {"type": "rule", "strokeWidth": 1.3, "color": "black"}, "encoding": {"x2": {"field": "date2"}, "y": {"field": "rate", "type": "quantitative", "axis": null}, "y2": {"field": "rate2"}}},
            {"data": {"name": "arrows"}, "transform": [{"filter": "datum.arrow == 'paper'"}], "mark": {"type": "point", "shape": "triangle-up", "filled": true, "size": 45, "angle": 145, "color": "black", "opacity": 1}, "encoding": {"x": {"field": "date2", "type": "ordinal"}, "y": {"field": "rate2", "type": "quantitative", "axis": null}}},
            {"data": {"name": "arrows"}, "transform": [{"filter": "datum.arrow == 'bills'"}], "mark": {"type": "point", "shape": "triangle-up", "filled": true, "size": 45, "angle": 0, "color": "black", "opacity": 1}, "encoding": {"x": {"field": "date2", "type": "ordinal"}, "y": {"field": "rate2", "type": "quantitative", "axis": null}}},
            {"data": {"name": "annotations"}, "transform": [{"filter": "datum.panel == 'money'"}], "mark": {"type": "text", "fontSize": 14.5, "fontWeight": "bold", "lineBreak": "\n", "lineHeight": 18, "baseline": "middle"}, "encoding": {"y": {"field": "rate", "type": "quantitative", "axis": null}, "text": {"field": "text"}}},
            {"data": {"name": "calendar"}, "transform": [{"filter": "datum.panel == 'money' && datum.kind == 'title'"}], "mark": {"type": "text", "fontSize": 15, "fontWeight": "bold", "baseline": "middle"}, "encoding": {"y": {"datum": 9.078, "axis": null}, "text": {"field": "text"}}},
            {"data": {"name": "calendar"}, "transform": [{"filter": "datum.panel == 'money' && datum.kind == 'month'"}], "mark": {"type": "text", "fontSize": 14, "fontWeight": "bold", "baseline": "middle"}, "encoding": {"y": {"datum": 3.694, "axis": null}, "text": {"field": "text"}}},
            {"data": {"name": "calendar"}, "transform": [{"filter": "datum.panel == 'money' && datum.kind == 'year'"}], "mark": {"type": "text", "fontSize": 14, "fontWeight": "bold", "baseline": "middle"}, "encoding": {"y": {"datum": 3.53, "axis": null}, "text": {"field": "text"}}}
          ],
          "resolve": {"axis": {"y": "independent"}}
        },
        {
          "width": 596,
          "height": 638,
          "view": {"stroke": "black", "strokeWidth": 1.6},
          "data": {"name": "bond"},
          "encoding": {
            "x": {
              "field": "date", "type": "ordinal",
              "scale": {"type": "point", "padding": 0, "domain": ["1972-11-30","1972-12-01","1972-12-04","1972-12-05","1972-12-06","1972-12-07","1972-12-08","1972-12-11","1972-12-12","1972-12-13","1972-12-14","1972-12-15","1972-12-18","1972-12-19","1972-12-20","1972-12-21","1972-12-22","1972-12-26","1972-12-27","1972-12-28","1972-12-29","1973-01-02","1973-01-03","1973-01-04","1973-01-05","1973-01-08","1973-01-09","1973-01-10","1973-01-11","1973-01-12","1973-01-15","1973-01-16","1973-01-17","1973-01-18","1973-01-19","1973-01-22","1973-01-23","1973-01-24","1973-01-25","1973-01-26","1973-01-29","1973-01-30","1973-01-31","1973-02-01","1973-02-02","1973-02-05","1973-02-06","1973-02-07","1973-02-08","1973-02-09","1973-02-13","1973-02-14","1973-02-15","1973-02-16","1973-02-20","1973-02-21","1973-02-22","1973-02-23","1973-02-26","1973-02-27","1973-02-28"]},
              "axis": {"orient": "bottom", "title": null, "domain": false, "ticks": false, "grid": false, "labelAngle": 0, "labelPadding": 8, "labelFont": "Open Sans", "labelFontSize": 14, "labelFontWeight": "bold", "labelColor": "black", "labelFlush": true, "labelOverlap": false, "labelBaseline": "top", "labelExpr": "utcday(toDate(datum.value)) == 3 ? '' + toNumber(substring(datum.value, 8, 10)) : ''"}
            }
          },
          "layer": [
            {"data": {"name": "monthEnds"}, "mark": {"type": "rule", "strokeWidth": 1.3, "color": "black"}, "encoding": {}},
            {"transform": [{"filter": "datum.series == 'aaa'"}], "mark": {"type": "rule", "strokeWidth": 1.3, "color": "black"}, "encoding": {"y": {"datum": 4, "axis": null}, "y2": {"datum": 4.094}}},
            {"transform": [{"filter": "datum.series == 'aaa' && utcday(toDate(datum.date)) == 3"}], "mark": {"type": "rule", "strokeWidth": 1.3, "color": "black"}, "encoding": {"y": {"datum": 4, "axis": null}, "y2": {"datum": 4.172}}},
            {"transform": [{"filter": "datum.series == 'aaa'"}], "mark": {"type": "line", "strokeWidth": 3.6, "color": "black"},
             "encoding": {"y": {"field": "rate", "type": "quantitative", "scale": {"domain": [4, 9], "nice": false, "zero": false},
               "axis": {"orient": "right", "values": [4, 5, 6, 7, 8, 9], "format": ".2f", "domain": false, "grid": false, "tickSize": -9, "tickWidth": 2, "tickColor": "black", "labelPadding": 12, "labelFont": "Open Sans", "labelFontSize": 15, "labelFontWeight": "bold", "labelColor": "black", "labelFlush": false, "labelOverlap": false, "labelBaseline": {"condition": {"test": "datum.value == 9", "value": "top"}, "value": "middle"}, "title": "Percent", "titleAngle": 0, "titleAlign": "left", "titleBaseline": "alphabetic", "titleX": -15, "titleY": -7, "titleFont": "Open Sans", "titleFontSize": 14, "titleFontWeight": "bold", "titleColor": "black"}}}},
            {"transform": [{"filter": "datum.series == 'govlong'"}], "mark": {"type": "line", "strokeWidth": 3.6, "color": "black"},
             "encoding": {"y": {"field": "rate", "type": "quantitative",
               "axis": {"orient": "left", "values": [5, 6, 7, 8], "labels": false, "domain": false, "grid": false, "tickSize": -9, "tickWidth": 2, "tickColor": "black", "title": null}}}},
            {"transform": [{"filter": "datum.series == 'gov35'"}], "mark": {"type": "line", "strokeWidth": 3.1, "strokeDash": [10, 6], "color": "black"}, "encoding": {"y": {"field": "rate", "type": "quantitative", "axis": null}}},
            {"transform": [{"filter": "datum.series == 'newaaa'"}], "mark": {"type": "line", "strokeWidth": 1.2, "color": "black", "point": {"filled": false, "fill": "white", "stroke": "black", "strokeWidth": 1.2, "size": 32}}, "encoding": {"y": {"field": "rate", "type": "quantitative", "axis": null}}},
            {"transform": [{"filter": "datum.series == 'taxexempt'"}], "mark": {"type": "line", "strokeWidth": 1.4, "color": "black"}, "encoding": {"y": {"field": "rate", "type": "quantitative", "axis": null}}},
            {"transform": [{"filter": "datum.series == 'taxexempt' && datum.date != '1973-02-28'"}], "mark": {"type": "point", "filled": true, "size": 36, "color": "black", "opacity": 1}, "encoding": {"y": {"field": "rate", "type": "quantitative", "axis": null}}},
            {"data": {"name": "annotations"}, "transform": [{"filter": "datum.panel == 'bond'"}], "mark": {"type": "text", "fontSize": 14.5, "fontWeight": "bold", "lineBreak": "\n", "lineHeight": 19, "baseline": "middle"}, "encoding": {"y": {"field": "rate", "type": "quantitative", "axis": null}, "text": {"field": "text"}}},
            {"data": {"name": "calendar"}, "transform": [{"filter": "datum.panel == 'bond' && datum.kind == 'title'"}], "mark": {"type": "text", "fontSize": 15, "fontWeight": "bold", "baseline": "middle"}, "encoding": {"y": {"datum": 9.078, "axis": null}, "text": {"field": "text"}}},
            {"data": {"name": "calendar"}, "transform": [{"filter": "datum.panel == 'bond' && datum.kind == 'month'"}], "mark": {"type": "text", "fontSize": 14, "fontWeight": "bold", "baseline": "middle"}, "encoding": {"y": {"datum": 3.687, "axis": null}, "text": {"field": "text"}}},
            {"data": {"name": "calendar"}, "transform": [{"filter": "datum.panel == 'bond' && datum.kind == 'year'"}], "mark": {"type": "text", "fontSize": 14, "fontWeight": "bold", "baseline": "middle"}, "encoding": {"y": {"datum": 3.522, "axis": null}, "text": {"field": "text"}}}
          ],
          "resolve": {"axis": {"y": "independent"}}
        }
      ]
    },
    {
      "spacing": 0,
      "vconcat": [
        {
          "spacing": 12,
          "hconcat": [
            {"width": 635, "height": 1, "data": {"values": []}, "mark": "point",
             "title": {"text": "Note:\u00a0 Data are shown for business days only.",
               "subtitle": [
                 "MONEY MARKET RATES QUOTED:\u00a0 Bid rates for three-month Euro-dollars in London; offering",
                 "\u200b\u00a0\u00a0\u00a0\u00a0\u00a0rates (quoted in terms of rate of discount) on 90- to 119-day prime commercial paper",
                 "\u200b\u00a0\u00a0\u00a0\u00a0\u00a0quoted by three of the five dealers that report their rates, or the midpoint of the range",
                 "\u200b\u00a0\u00a0\u00a0\u00a0\u00a0quoted if no consensus is available; the effective rate on Federal funds (the rate most",
                 "\u200b\u00a0\u00a0\u00a0\u00a0\u00a0representative of the transactions executed); closing bid rates (quoted in terms of rate of",
                 "\u200b\u00a0\u00a0\u00a0\u00a0\u00a0discount) on newest outstanding three-month Treasury bills."
               ],
               "orient": "bottom", "anchor": "start", "frame": "group", "align": "left", "dx": -20, "offset": 27,
               "font": "Open Sans", "fontSize": 13.8, "fontWeight": "bold", "color": "black",
               "subtitleFont": "Open Sans", "subtitleFontSize": 13.8, "subtitleFontWeight": "bold", "subtitleColor": "black",
               "subtitleLineHeight": 19, "subtitlePadding": 18}},
            {"width": 600, "height": 1, "data": {"values": []}, "mark": "point",
             "title": {"text": [
                 "standard Aaa\u00a0 bond of at least twenty years' maturity; daily averages of yields",
                 "on seasoned Aaa-rated corporate bonds; daily averages of yields on long-",
                 "term Government securities (bonds due or callable in ten years or more) and",
                 "on Government securities due in three to five years, computed on the basis of",
                 "closing bid prices; Thursday averages of yields on twenty seasoned twenty-year",
                 "tax-exempt bonds (carrying Moody's ratings of Aaa, Aa, A, and Baa)."
               ],
               "orient": "bottom", "anchor": "start", "frame": "group", "align": "left", "dx": 24, "offset": 61,
               "font": "Open Sans", "fontSize": 13.8, "fontWeight": "bold", "color": "black", "lineHeight": 19}}
          ]
        },
        {
          "spacing": 12,
          "hconcat": [
            {"width": 635, "height": 1, "data": {"values": []}, "mark": "point",
             "title": {"text": [
                 "BOND MARKET YIELDS QUOTED:\u00a0 Yields on new Aaa-rated public utility bonds are based",
                 "\u200b\u00a0\u00a0\u00a0\u00a0\u00a0on prices asked by underwriting syndicates, adjusted to make them equivalent to a"
               ],
               "orient": "bottom", "anchor": "start", "frame": "group", "align": "left", "dx": -20, "offset": 10,
               "font": "Open Sans", "fontSize": 13.8, "fontWeight": "bold", "color": "black", "lineHeight": 19}},
            {"width": 600, "height": 1, "data": {"values": []}, "mark": "point",
             "title": {"text": [
                 "Sources:\u00a0 Federal Reserve Bank of New York, Board of Governors of the Federal",
                 "\u200b\u00a0\u00a0\u00a0\u00a0\u00a0\u00a0Reserve System, Moody's Investors Service, Inc., and The Bond Buyer."
               ],
               "orient": "bottom", "anchor": "start", "frame": "group", "align": "left", "dx": 0, "offset": 10,
               "font": "Open Sans", "fontSize": 13.8, "fontWeight": "bold", "color": "black", "lineHeight": 19}}
          ]
        }
      ]
    }
  ]
}
